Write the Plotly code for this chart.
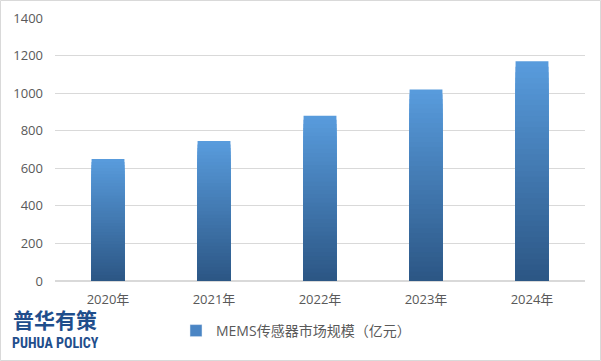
import plotly.graph_objects as go

years = ["2020年", "2021年", "2022年", "2023年", "2024年"]
values = [650, 745, 880, 1020, 1170]
series_name = "MEMS传感器市场规模（亿元）"
y_ticks = [0, 200, 400, 600, 800, 1000, 1200, 1400]

W, H = 601, 361
L, R, T, B = 55, 16, 18, 80
pw, ph = W - L - R, H - T - B

FONT = "Open Sans, Noto Sans CJK SC, DejaVu Sans"

def cx(p):
    return p / W

def cy(p):
    return 1 - p / H

top_rgb = (0x58, 0x9B, 0xDC)
bot_rgb = (0x2B, 0x55, 0x83)

fig = go.Figure()
N = 40
for i in range(N):
    f = 1 - i / N
    c = tuple(int(round(bot_rgb[k] + (top_rgb[k] - bot_rgb[k]) * f)) for k in range(3))
    fig.add_trace(go.Bar(
        x=years, y=[v * f for v in values],
        marker=dict(color="rgb(%d,%d,%d)" % c, line=dict(width=0)),
        width=0.31, showlegend=False, hoverinfo="skip",
    ))
# legend entry
fig.add_trace(go.Bar(
    x=years, y=[None] * len(years), name=series_name,
    marker=dict(color="#4A85C4"), showlegend=True,
))

fig.update_layout(
    width=W, height=H,
    margin=dict(l=L, r=R, t=T, b=B, autoexpand=False),
    barmode="overlay",
    plot_bgcolor="white", paper_bgcolor="white",
    font=dict(family=FONT, size=12, color="#595959"),
    xaxis=dict(showgrid=False, showline=False, ticks="", tickfont=dict(family=FONT, size=13, color="#595959"),
               ticklabelstandoff=9, automargin=False),
    yaxis=dict(range=[0, 1400], tickvals=y_ticks, showgrid=True, gridcolor="#D9D9D9",
               gridwidth=1, zeroline=True, zerolinecolor="#D9D9D9", showline=False,
               ticks="", ticklabelstandoff=11, tickfont=dict(family=FONT, size=13, color="#595959"),
               automargin=False),
    legend=dict(orientation="h", xref="container", yref="container",
                x=cx(296), xanchor="center", y=cy(331), yanchor="middle",
                font=dict(family=FONT, size=14, color="#595959"), itemwidth=30,
                bgcolor="rgba(0,0,0,0)"),
    shapes=[dict(type="rect", xref="paper", yref="paper",
                 x0=(0.5 - L) / pw, x1=(600.5 - L) / pw,
                 y0=(H - B - 360.5) / ph, y1=(H - B - 0.5) / ph,
                 line=dict(color="#D9D9D9", width=1), fillcolor="rgba(0,0,0,0)", layer="below")],
    annotations=[
        dict(text="<b>普华有策</b>", xref="paper", yref="paper",
             x=(55 - L) / pw, y=(H - B - 319) / ph,
             xanchor="center", yanchor="middle", showarrow=False,
             font=dict(family="Noto Sans CJK SC", size=21, color="#1F4E8C")),
        dict(text="<b>PUHUA POLICY</b>", xref="paper", yref="paper",
             x=(55 - L) / pw, y=(H - B - 343) / ph,
             xanchor="center", yanchor="middle", showarrow=False,
             font=dict(family="Liberation Sans Narrow, Roboto Condensed, Roboto", size=14, color="#1F4E8C")),
    ],
)

fig.write_html("out.html", config={"displayModeBar": False},
               post_script="document.body.style.margin='0';document.body.style.padding='0';"
                           "document.body.style.overflow='hidden';")
